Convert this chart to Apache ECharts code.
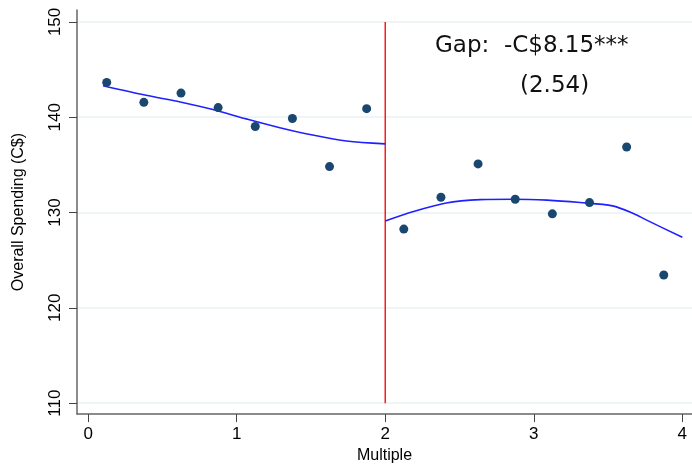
<!DOCTYPE html>
<html>
<head>
<meta charset="utf-8">
<script src="https://cdn.jsdelivr.net/npm/echarts@6/dist/echarts.min.js"></script>
<style>html,body{margin:0;padding:0;background:#fff}#c{width:692px;height:469px}</style>
</head>
<body>
<div id="c"></div>
<script>
var binX = [0.125, 0.375, 0.625, 0.875, 1.125, 1.375, 1.625, 1.875, 2.125, 2.375, 2.625, 2.875, 3.125, 3.375, 3.625, 3.875];
var binY = [143.65, 141.56, 142.53, 141.01, 139.03, 139.86, 134.82, 140.9, 128.26, 131.6, 135.1, 131.39, 129.86, 131.04, 136.88, 123.44];
var leftFitX = [0.1, 0.39, 0.62, 0.84, 1.07, 1.29, 1.52, 1.74, 2.0];
var leftFitY = [143.3, 142.3, 141.6, 140.8, 139.8, 138.9, 138.1, 137.5, 137.2];
var rightFitX = [2.0, 2.19, 2.41, 2.64, 2.86, 3.09, 3.31, 3.53, 3.67, 3.76, 4.0];
var rightFitY = [129.1, 130.1, 131.0, 131.35, 131.4, 131.3, 131.05, 130.7, 129.9, 129.2, 127.4];
var cutoffX = [2, 2];
var cutoffY = [110, 150];
var xTicks = [0, 1, 2, 3, 4];
var yTicks = [110, 120, 130, 140, 150];
var gapText = 'Gap:  -C$8.15***';
var seText = '(2.54)';

function zip(a, b) { return a.map(function (v, i) { return [v, b[i]]; }); }

var chart = echarts.init(document.getElementById('c'), null, {renderer: 'canvas'});
chart.setOption({
  animation: false,
  backgroundColor: '#ffffff',
  grid: {left: 77, right: 0, top: 10, bottom: 52, containLabel: false},
  xAxis: {
    type: 'value', min: -0.075, max: 4.065,
    name: 'Multiple', nameLocation: 'middle', nameGap: 33,
    nameTextStyle: {fontFamily: 'Liberation Sans', fontSize: 16, color: '#000'},
    axisLine: {show: true, onZero: false, lineStyle: {color: '#666', width: 1.5}},
    axisTick: {show: true, length: 8, customValues: xTicks, lineStyle: {color: '#444'}},
    axisLabel: {customValues: xTicks, margin: 12, fontFamily: 'Liberation Sans', fontSize: 17, color: '#000'},
    splitLine: {show: false}
  },
  yAxis: {
    type: 'value', min: 108.85, max: 151.25,
    name: 'Overall Spending (C$)', nameLocation: 'middle', nameGap: 50,
    nameTextStyle: {fontFamily: 'Liberation Sans', fontSize: 16, color: '#000'},
    axisLine: {show: true, onZero: false, lineStyle: {color: '#666', width: 1.5}},
    axisTick: {show: true, length: 8, customValues: yTicks, lineStyle: {color: '#444'}},
    axisLabel: {customValues: yTicks, rotate: 90, margin: 13, fontFamily: 'Liberation Sans', fontSize: 17, color: '#000'},
    splitLine: {show: true, lineStyle: {color: '#eaf2f3', width: 1.5}}
  },
  series: [
    {type: 'line', data: zip(leftFitX, leftFitY), smooth: 0.3, showSymbol: false, symbol: 'none',
     lineStyle: {color: '#2020ff', width: 1.6}, z: 3},
    {type: 'line', data: zip(rightFitX, rightFitY), smooth: 0.3, showSymbol: false, symbol: 'none',
     lineStyle: {color: '#2020ff', width: 1.6}, z: 3},
    {type: 'line', data: zip(cutoffX, cutoffY), showSymbol: false, symbol: 'none',
     lineStyle: {color: '#ff1a1a', width: 1.5}, z: 2},
    {type: 'scatter', data: zip(binX, binY), symbolSize: 9,
     itemStyle: {color: '#1a476f', opacity: 1}, z: 4}
  ],
  graphic: [
    {type: 'text', left: 435, top: 35, style: {text: gapText, font: '23px "DejaVu Sans"', fill: '#111'}},
    {type: 'text', left: 520, top: 75, style: {text: seText, font: '23px "DejaVu Sans"', fill: '#111'}}
  ]
});
</script>
</body>
</html>
